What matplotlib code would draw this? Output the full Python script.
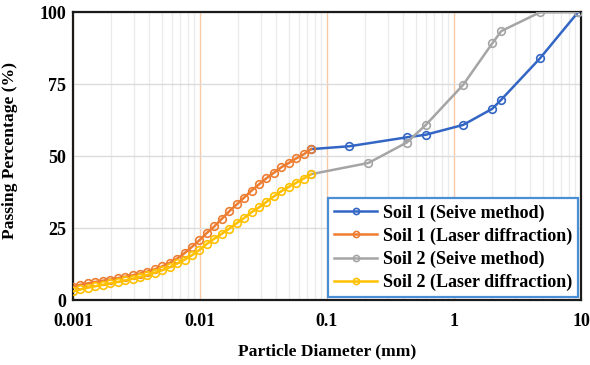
import matplotlib
matplotlib.use('Agg')
import matplotlib.pyplot as plt
from matplotlib.ticker import LogLocator, NullFormatter, FixedLocator

plt.rcParams['font.family'] = ['Liberation Serif', 'DejaVu Serif']
plt.rcParams['font.weight'] = 'bold'

# 篩分法 (sieve sizes, mm)
soil1_sieve_d = [0.075, 0.15, 0.425, 0.6, 1.18, 2.0, 2.36, 4.75, 9.5]
soil1_sieve_p = [52.4, 53.4, 56.5, 57.4, 60.8, 66.4, 69.6, 83.9, 100.0]

soil2_sieve_d = [0.075, 0.212, 0.425, 0.6, 1.18, 2.0, 2.36, 4.75, 9.5]
soil2_sieve_p = [43.7, 47.6, 54.7, 60.8, 74.7, 89.1, 93.4, 99.9, 100.0]

# 雷射繞射 (laser diffraction bins, mm)
laser_d = [0.001, 0.001145, 0.00131, 0.001499, 0.001716, 0.001964, 0.002248,
           0.002572, 0.002944, 0.00337, 0.003857, 0.004414, 0.005052, 0.005782,
           0.006617, 0.007574, 0.00866, 0.009912, 0.01134, 0.01298, 0.01486,
           0.01701, 0.01947, 0.02228, 0.0255, 0.02918, 0.0334, 0.03823,
           0.04375, 0.05007, 0.05731, 0.06559, 0.075]
soil1_laser_p = [4.6, 5.3, 5.8, 6.3, 6.7, 7.1, 7.6, 8.1, 8.6, 9.2, 9.9, 10.7,
                 11.7, 12.9, 14.4, 16.3, 18.5, 20.8, 23.3, 25.6, 28.2, 30.8,
                 33.2, 35.6, 38.0, 40.2, 42.3, 44.2, 46.1, 47.6, 49.2, 50.6, 52.4]
soil2_laser_p = [3.0, 3.7, 4.3, 4.8, 5.3, 5.8, 6.3, 6.8, 7.4, 8.0, 8.7, 9.5,
                 10.4, 11.4, 12.7, 14.0, 15.6, 17.4, 19.5, 21.3, 23.0, 24.8,
                 26.7, 28.5, 30.5, 32.2, 34.1, 36.0, 37.8, 39.3, 40.7, 42.2, 43.7]

x_ticks = [0.001, 0.01, 0.1, 1, 10]
x_tick_labels = ['0.001', '0.01', '0.1', '1', '10']
y_ticks = [0, 25, 50, 75, 100]

fig = plt.figure(figsize=(5.9, 3.65), dpi=100)
ax = fig.add_axes([0.1237, 0.178, 0.861, 0.789])

# 網格線
ax.set_xscale('log')
ax.set_xlim(0.001, 10)
ax.set_ylim(0, 100)
ax.xaxis.set_minor_locator(LogLocator(base=10, subs=range(2, 10)))
ax.xaxis.set_minor_formatter(NullFormatter())
ax.grid(which='minor', axis='x', color='#ebebeb', lw=1.0, zorder=0)
ax.grid(which='major', axis='x', color='#f9c9a8', lw=1.0, zorder=0)
ax.grid(which='major', axis='y', color='#dcdcdc', lw=1.0, zorder=0)

mk = dict(marker='o', markersize=5.5, markerfacecolor='none', markeredgewidth=1.2)
ax.plot(soil1_sieve_d, soil1_sieve_p, color='#3366c4', lw=1.8,
        label='Soil 1 (Seive method)', zorder=3, **mk)
ax.plot(laser_d, soil1_laser_p, color='#ed7d31', lw=1.8,
        label='Soil 1 (Laser diffraction)', zorder=4, **mk)
ax.plot(soil2_sieve_d, soil2_sieve_p, color='#a5a5a5', lw=1.8,
        label='Soil 2 (Seive method)', zorder=3, **mk)
ax.plot(laser_d, soil2_laser_p, color='#ffc000', lw=1.8,
        label='Soil 2 (Laser diffraction)', zorder=4, **mk)

ax.xaxis.set_major_locator(FixedLocator(x_ticks))
ax.set_xticklabels(x_tick_labels)
ax.set_yticks(y_ticks)
ax.tick_params(which='both', length=0, labelsize=13)
ax.tick_params(axis='x', pad=9)
ax.tick_params(axis='y', pad=5)
for lab in ax.get_xticklabels() + ax.get_yticklabels():
    lab.set_fontweight('bold')

for s in ax.spines.values():
    s.set_color('#1a1a1a')
    s.set_linewidth(1.6)

ax.set_xlabel('Particle Diameter (mm)', fontsize=12.6, fontweight='bold', labelpad=10)
ax.set_ylabel('Passing Percentage (%)', fontsize=12.6, fontweight='bold')
ax.yaxis.set_label_coords(-0.108, 0.52)

leg = ax.legend(loc='lower right', bbox_to_anchor=(1.0, 0.0), fontsize=13,
                fancybox=False, framealpha=1, edgecolor='#4a8fd6',
                borderpad=0.35, labelspacing=0.32, handlelength=2.4,
                handletextpad=0.3, markerscale=0.8, borderaxespad=0.15)
leg.get_frame().set_linewidth(1.6)
for t in leg.get_texts():
    t.set_fontweight('bold')

plt.savefig('out.png', dpi=100)
